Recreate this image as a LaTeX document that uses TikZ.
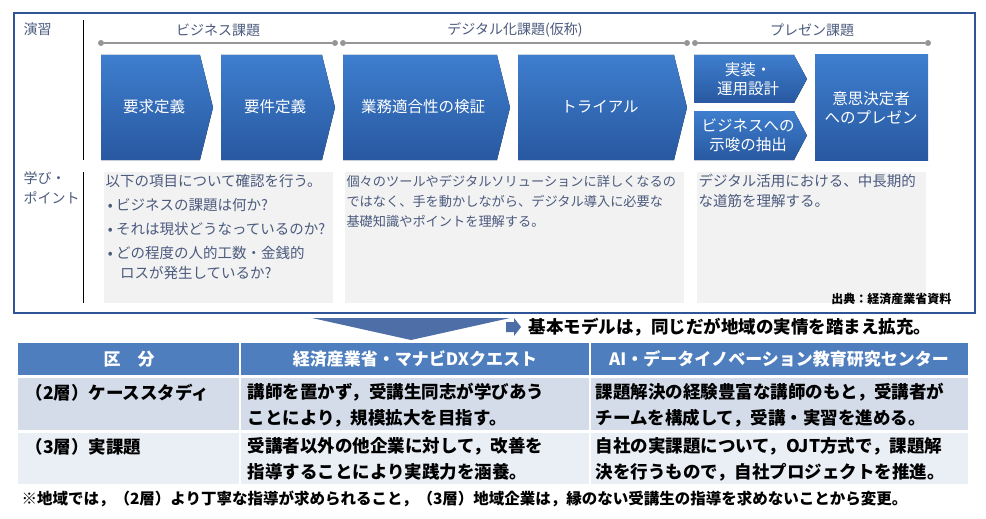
\documentclass[tikz,border=0pt]{standalone}
\usepackage{fontspec}
\setmainfont{Noto Sans CJK JP}
\usetikzlibrary{positioning}
\definecolor{frameColor}{RGB}{47,85,151}
\definecolor{chevTop}{RGB}{62,126,206}
\definecolor{chevBottom}{RGB}{40,88,160}
\definecolor{pointColor}{RGB}{242,242,242}
\definecolor{phaseColor}{RGB}{150,150,150}
\definecolor{labelColor}{RGB}{75,90,125}
\definecolor{headColor}{RGB}{79,126,190}
\definecolor{rowAColor}{RGB}{212,220,234}
\definecolor{rowBColor}{RGB}{234,238,245}

\begin{document}
\begin{tikzpicture}[x=1pt, y=-1pt,
    chev/.style={top color=chevTop, bottom color=chevBottom, draw=none},
    chevtext/.style={text=white, align=center, font=\fontsize{15.5}{19}\selectfont},
    phase/.style={text=labelColor, font=\fontsize{14}{16}\selectfont},
    dot/.style={circle, fill=phaseColor, inner sep=0pt, minimum size=6pt},
    point/.style={fill=pointColor, draw=none},
    pointtext/.style={anchor=north west, align=left, text=labelColor, font=\fontsize{14.5}{20}\selectfont},
    cell/.style={anchor=west, align=left, font=\bfseries\fontsize{17.5}{26}\selectfont},
    headtext/.style={text=white, font=\bfseries\fontsize{17}{19}\selectfont}
]
\useasboundingbox (0,0) rectangle (986,519);

% Outer frame
\draw[frameColor, line width=2.5pt] (14,13) rectangle (975,313);
\node[phase, anchor=north west] (ensyu) at (20,19) {演習};
\node[phase, anchor=north west, align=left, font=\fontsize{14}{20}\selectfont] (manabi) at (20,168) {学び・\\ポイント};
\draw[line width=1pt] (83,20) -- (83,160);
\draw[line width=1pt] (83,172) -- (83,303);

% Phase lines
\foreach \a/\b/\n in {101/335/p1, 343/687/p2, 695/928/p3} {
    \node[dot] (\n a) at (\a,43) {};
    \node[dot] (\n b) at (\b,43) {};
    \draw[phaseColor, line width=1.5pt] (\n a) -- (\n b);
}
\node[phase] (t1) at (218,30) {ビジネス課題};
\node[phase] (t2) at (515,30) {デジタル化課題(仮称)};
\node[phase] (t3) at (812,30) {プレゼン課題};

% Chevrons
\foreach \xa/\xp/\ya/\yb in {101/213/55/160, 221/335/55/160, 343/510/55/160, 518/687/55/160, 694/807/55/103, 694/807/111/160} {
    \fill[chev] (\xa,\ya) -- (\xp-13,\ya) -- (\xp,{(\ya+\yb)/2}) -- (\xp-13,\yb) -- (\xa,\yb) -- cycle;
}
\fill[chev] (815,55) rectangle (928,160);
\node[chevtext] (c1) at (154,107) {要求定義};
\node[chevtext] (c2) at (275,107) {要件定義};
\node[chevtext] (c3) at (423,107) {業務適合性の検証};
\node[chevtext] (c4) at (600,107) {トライアル};
\node[chevtext] (c5) at (748,79) {実装・\\運用設計};
\node[chevtext] (c6) at (748,135) {ビジネスへの\\示唆の抽出};
\node[chevtext] (c7) at (871,108) {意思決定者\\へのプレゼン};

% Learning points
\fill[point] (104,172) rectangle (333,303);
\fill[point] (345,172) rectangle (684,303);
\fill[point] (697,172) rectangle (926,303);
\node[pointtext] (l1) at (102,171) {以下の項目について確認を行う。\\[4pt]
  \,• ビジネスの課題は何か?\\[4pt]
  \,• それは現状どうなっているのか?\\[4pt]
  \,• どの程度の人的工数・金銭的\\
  \quad ロスが発生しているか?};
\node[pointtext, font=\fontsize{13.2}{20}\selectfont] (l2) at (343,172) {個々のツールやデジタルソリューションに詳しくなるの\\ではなく、手を動かしながら、デジタル導入に必要な\\基礎知識やポイントを理解する。};
\node[pointtext] (l3) at (695,171) {デジタル活用における、中長期的\\な道筋を理解する。};
\node[anchor=east, font=\bfseries\fontsize{12}{14}\selectfont] (src) at (955,299) {出典：経済産業省資料};

% Down arrow and note
\fill[frameColor!85] (312,318) -- (510,318) -- (411,340) -- cycle;
\fill[frameColor!85] (506,322) -- (514,322) -- (514,318) -- (521,327) -- (514,336) -- (514,332) -- (506,332) -- cycle;
\node[anchor=west, font=\bfseries\fontsize{17.5}{19}\selectfont] (kihon) at (525,327) {基本モデルは，同じだが地域の実情を踏まえ拡充。};

% Table
\fill[headColor] (18,343) rectangle (968,375);
\fill[rowAColor] (18,378) rectangle (968,430);
\fill[rowBColor] (18,433) rectangle (968,484);
\draw[white, line width=1.5pt] (240,343) -- (240,484);
\draw[white, line width=1.5pt] (590,343) -- (590,484);
\node[headtext] (h1) at (129,359) {区\quad 分};
\node[headtext] (h2) at (415,359) {経済産業省・マナビDXクエスト};
\node[headtext] (h3) at (779,359) {AI・データイノベーション教育研究センター};
\node[cell] (r1a) at (22,393) {（2層）ケーススタディ};
\node[cell] (r1b) at (244,405) {講師を置かず，受講生同志が学びあう\\ことにより，規模拡大を目指す。};
\node[cell] (r1c) at (592,405) {課題解決の経験豊富な講師のもと，受講者が\\チームを構成して，受講・実習を進める。};
\node[cell] (r2a) at (22,447) {（3層）実課題};
\node[cell] (r2b) at (244,459) {受講者以外の他企業に対して，改善を\\指導することにより実践力を涵養。};
\node[cell] (r2c) at (592,459) {自社の実課題について，OJT方式で，課題解\\決を行うもので，自社プロジェクトを推進。};
\node[anchor=west, font=\bfseries\fontsize{15.5}{16}\selectfont] (foot) at (18,499) {※地域では，（2層）より丁寧な指導が求められること，（3層）地域企業は，縁のない受講生の指導を求めないことから変更。};
\end{tikzpicture}
\end{document}
